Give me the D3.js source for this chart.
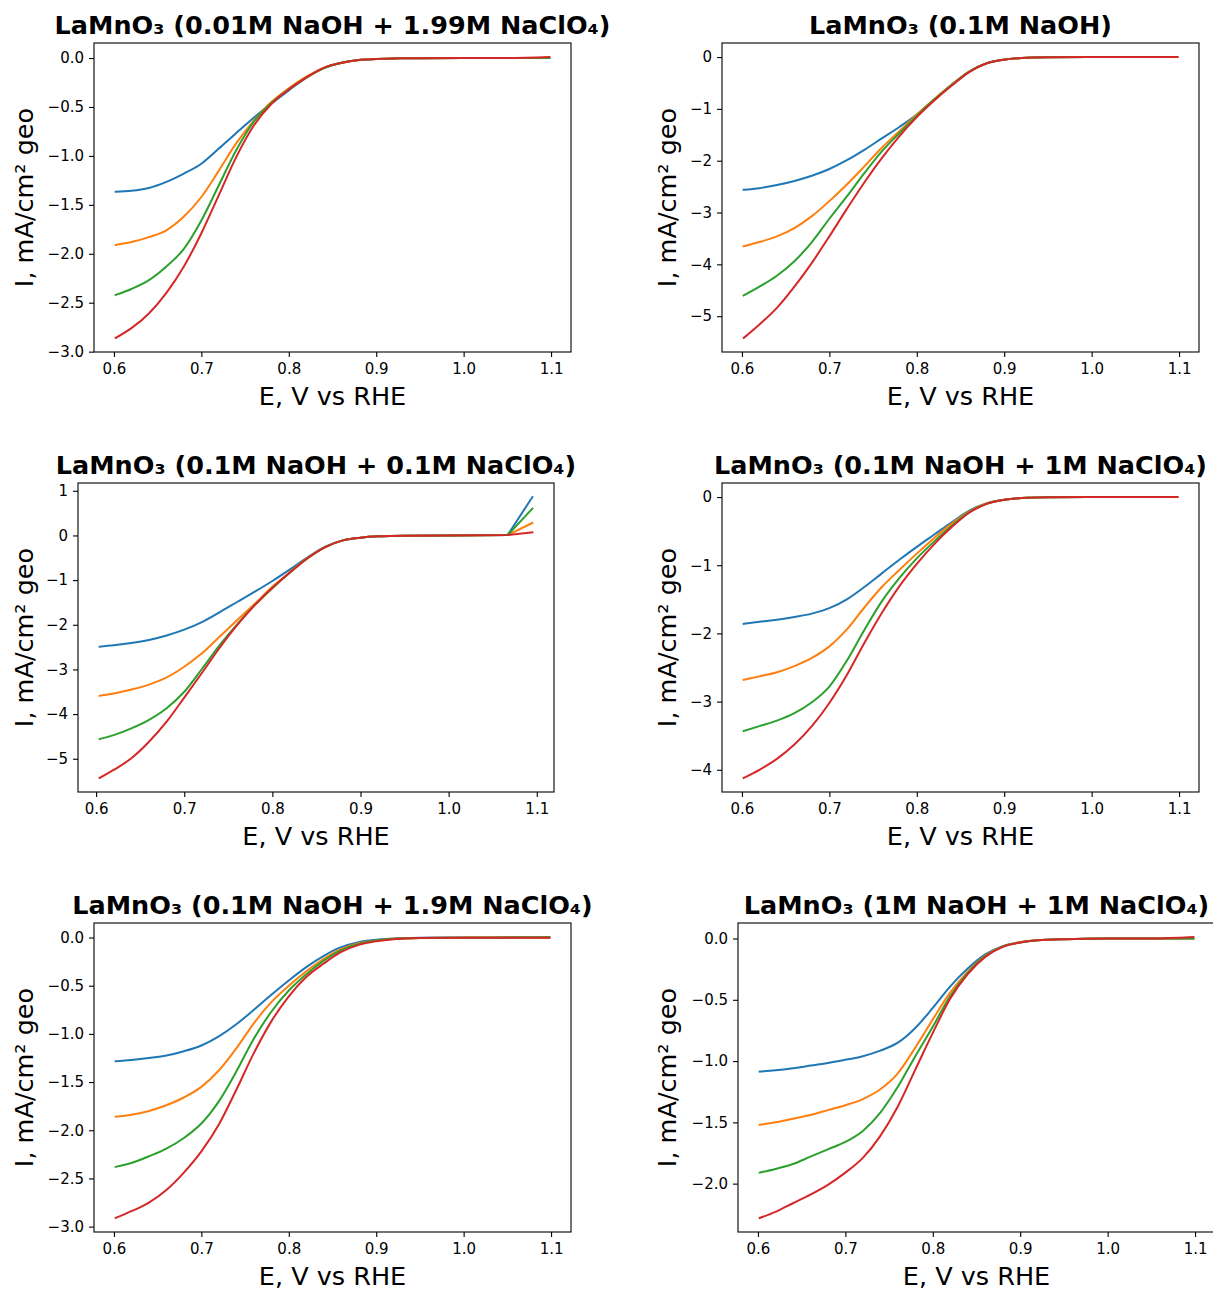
<!DOCTYPE html>
<html>
<head>
<meta charset="utf-8">
<script src="https://cdn.jsdelivr.net/npm/d3@7"></script>
<style>
  body { margin: 0; background: #fff; }
  text { font-family: "DejaVu Sans", sans-serif; fill: #000; }
</style>
</head>
<body>
<script>
// ---------------- DATA ----------------
const seriesColors = ["#1f77b4", "#ff7f0e", "#2ca02c", "#d62728"];
const xTickValues = [0.6, 0.7, 0.8, 0.9, 1.0, 1.1];

const titles = [
  "LaMnO₃ (0.01M NaOH + 1.99M NaClO₄)",
  "LaMnO₃ (0.1M NaOH)",
  "LaMnO₃ (0.1M NaOH + 0.1M NaClO₄)",
  "LaMnO₃ (0.1M NaOH + 1M NaClO₄)",
  "LaMnO₃ (0.1M NaOH + 1.9M NaClO₄)",
  "LaMnO₃ (1M NaOH + 1M NaClO₄)"
];
const xLabel = "E, V vs RHE";
const yLabel = "I, mA/cm² geo";

// potential grids (V vs RHE)
const E = [0.602, 0.62, 0.64, 0.66, 0.68, 0.70, 0.72, 0.74, 0.76, 0.78, 0.80, 0.82, 0.84, 0.86, 0.88, 0.90, 0.92, 0.95, 1.00, 1.05, 1.098];
const E3 = [0.604, 0.62, 0.64, 0.66, 0.68, 0.70, 0.72, 0.74, 0.76, 0.78, 0.80, 0.82, 0.84, 0.86, 0.88, 0.90, 0.92, 0.95, 1.00, 1.067, 1.095];

// Panel 1: 0.01M NaOH + 1.99M NaClO4
const p1Blue   = [-1.367, -1.357, -1.327, -1.265, -1.18, -1.08, -0.925, -0.765, -0.61, -0.466, -0.33, -0.20, -0.10, -0.048, -0.02, -0.01, -0.004, -0.002, -0.001, -0.001, 0.0];
const p1Orange = [-1.91, -1.88, -1.83, -1.76, -1.62, -1.42, -1.15, -0.87, -0.64, -0.45, -0.31, -0.19, -0.10, -0.048, -0.02, -0.01, -0.004, -0.002, -0.001, -0.001, 0.0];
const p1Green  = [-2.42, -2.36, -2.27, -2.13, -1.95, -1.66, -1.30, -0.94, -0.65, -0.46, -0.32, -0.20, -0.105, -0.05, -0.02, -0.01, -0.004, -0.002, -0.001, -0.001, 0.0];
const p1Red    = [-2.86, -2.76, -2.61, -2.40, -2.13, -1.79, -1.40, -1.01, -0.69, -0.47, -0.32, -0.20, -0.10, -0.05, -0.02, -0.01, -0.004, -0.002, -0.001, -0.001, 0.01];

// Panel 2: 0.1M NaOH
const p2Blue   = [-2.56, -2.53, -2.47, -2.39, -2.29, -2.16, -1.99, -1.79, -1.57, -1.35, -1.11, -0.82, -0.53, -0.28, -0.12, -0.05, -0.02, -0.005, 0, 0, 0];
const p2Orange = [-3.65, -3.57, -3.46, -3.30, -3.07, -2.78, -2.46, -2.11, -1.75, -1.43, -1.11, -0.81, -0.53, -0.28, -0.12, -0.05, -0.02, -0.005, 0, 0, 0];
const p2Green  = [-4.60, -4.43, -4.22, -3.94, -3.57, -3.12, -2.69, -2.24, -1.82, -1.47, -1.13, -0.82, -0.54, -0.28, -0.12, -0.05, -0.02, -0.005, 0, 0, 0];
const p2Red    = [-5.42, -5.16, -4.84, -4.43, -3.97, -3.46, -2.93, -2.42, -1.95, -1.53, -1.16, -0.84, -0.55, -0.29, -0.12, -0.05, -0.02, -0.005, 0, 0, 0];

// Panel 3: 0.1M NaOH + 0.1M NaClO4
const p3Blue   = [-2.49, -2.46, -2.41, -2.34, -2.24, -2.11, -1.94, -1.72, -1.49, -1.26, -1.02, -0.76, -0.49, -0.25, -0.11, -0.05, -0.02, -0.005, 0, 0.01, 0.86];
const p3Orange = [-3.59, -3.54, -3.45, -3.34, -3.18, -2.94, -2.64, -2.27, -1.90, -1.53, -1.15, -0.82, -0.50, -0.26, -0.11, -0.05, -0.02, -0.005, 0, 0.01, 0.28];
const p3Green  = [-4.56, -4.47, -4.32, -4.13, -3.87, -3.50, -2.99, -2.46, -1.99, -1.56, -1.18, -0.83, -0.51, -0.26, -0.11, -0.05, -0.02, -0.005, 0, 0.01, 0.60];
const p3Red    = [-5.43, -5.25, -4.99, -4.62, -4.17, -3.63, -3.08, -2.52, -2.01, -1.56, -1.17, -0.83, -0.51, -0.26, -0.11, -0.05, -0.02, -0.005, 0, 0.01, 0.07];

// Panel 4: 0.1M NaOH + 1M NaClO4
const p4Blue   = [-1.86, -1.83, -1.80, -1.76, -1.71, -1.63, -1.50, -1.32, -1.12, -0.92, -0.73, -0.55, -0.37, -0.20, -0.09, -0.04, -0.015, -0.004, 0, 0, 0];
const p4Orange = [-2.68, -2.63, -2.57, -2.48, -2.36, -2.19, -1.94, -1.62, -1.32, -1.07, -0.83, -0.60, -0.39, -0.21, -0.095, -0.04, -0.015, -0.004, 0, 0, 0];
const p4Green  = [-3.43, -3.36, -3.28, -3.17, -3.01, -2.78, -2.40, -1.95, -1.53, -1.19, -0.90, -0.65, -0.42, -0.22, -0.10, -0.04, -0.015, -0.004, 0, 0, 0];
const p4Red    = [-4.12, -4.00, -3.84, -3.63, -3.36, -3.02, -2.61, -2.14, -1.70, -1.31, -0.98, -0.69, -0.44, -0.23, -0.10, -0.04, -0.015, -0.004, 0, 0, 0];

// Panel 5: 0.1M NaOH + 1.9M NaClO4
const p5Blue   = [-1.284, -1.27, -1.25, -1.225, -1.18, -1.12, -1.025, -0.9, -0.75, -0.594, -0.445, -0.307, -0.19, -0.10, -0.048, -0.024, -0.01, -0.003, 0, 0.003, 0.005];
const p5Orange = [-1.86, -1.84, -1.80, -1.74, -1.66, -1.55, -1.38, -1.15, -0.89, -0.67, -0.50, -0.35, -0.22, -0.12, -0.06, -0.03, -0.012, -0.004, -0.001, 0, 0];
const p5Green  = [-2.38, -2.34, -2.27, -2.19, -2.08, -1.93, -1.70, -1.39, -1.05, -0.77, -0.55, -0.38, -0.24, -0.13, -0.066, -0.03, -0.014, -0.005, -0.002, -0.001, 0];
const p5Red    = [-2.91, -2.84, -2.75, -2.62, -2.44, -2.22, -1.94, -1.58, -1.20, -0.87, -0.61, -0.41, -0.27, -0.15, -0.076, -0.038, -0.017, -0.006, -0.002, -0.002, -0.003];

// Panel 6: 1M NaOH + 1M NaClO4
const p6Blue   = [-1.086, -1.075, -1.058, -1.037, -1.015, -0.99, -0.96, -0.915, -0.85, -0.73, -0.566, -0.39, -0.245, -0.13, -0.063, -0.03, -0.014, -0.005, 0, 0, 0];
const p6Orange = [-1.52, -1.50, -1.47, -1.44, -1.40, -1.36, -1.31, -1.23, -1.10, -0.89, -0.66, -0.44, -0.27, -0.14, -0.065, -0.03, -0.014, -0.005, 0, 0, 0];
const p6Green  = [-1.91, -1.88, -1.84, -1.78, -1.72, -1.66, -1.57, -1.42, -1.21, -0.96, -0.72, -0.47, -0.28, -0.144, -0.066, -0.032, -0.014, -0.005, 0, 0, 0];
const p6Red    = [-2.28, -2.23, -2.16, -2.09, -2.01, -1.91, -1.79, -1.61, -1.37, -1.07, -0.77, -0.49, -0.29, -0.15, -0.068, -0.033, -0.015, -0.005, 0, 0, 0.012];

// y tick values per panel
const yTicksHalf = [0.0, -0.5, -1.0, -1.5, -2.0, -2.5, -3.0];
const yTicksP2 = [0, -1, -2, -3, -4, -5];
const yTicksP3 = [1, 0, -1, -2, -3, -4, -5];
const yTicksP4 = [0, -1, -2, -3, -4];
const yTicksP6 = [0.0, -0.5, -1.0, -1.5, -2.0];

// ---------------- LAYOUT ----------------
const W = 1213, H = 1291;
const panels = [
  { title: titles[0], x: E,  ys: [p1Blue, p1Orange, p1Green, p1Red], yt: yTicksHalf, fmt: ".1f", box: [94, 43, 571, 352],   ylx: 33, tail: false },
  { title: titles[1], x: E,  ys: [p2Blue, p2Orange, p2Green, p2Red], yt: yTicksP2,   fmt: "d",   box: [722, 43, 1199, 352],  ylx: 676, tail: false },
  { title: titles[2], x: E3, ys: [p3Blue, p3Orange, p3Green, p3Red], yt: yTicksP3,   fmt: "d",   box: [78, 483, 554, 792],   ylx: 33, tail: true },
  { title: titles[3], x: E,  ys: [p4Blue, p4Orange, p4Green, p4Red], yt: yTicksP4,   fmt: "d",   box: [722, 483, 1199, 792], ylx: 676, tail: false },
  { title: titles[4], x: E,  ys: [p5Blue, p5Orange, p5Green, p5Red], yt: yTicksHalf, fmt: ".1f", box: [94, 923, 571, 1232],  ylx: 33, tail: false },
  { title: titles[5], x: E,  ys: [p6Blue, p6Orange, p6Green, p6Red], yt: yTicksP6,   fmt: ".1f", box: [738, 923, 1215, 1232], ylx: 676, tail: false }
];

const svg = d3.select("body").append("svg").attr("width", W).attr("height", H);

function padded(ext) {
  const m = (ext[1] - ext[0]) * 0.05;
  return [ext[0] - m, ext[1] + m];
}

panels.forEach(p => {
  const [l, t, r, b] = p.box;
  const xs = d3.scaleLinear().domain(padded(d3.extent(p.x))).range([l, r]);
  const allY = p.ys.flat();
  const ysc = d3.scaleLinear().domain(padded(d3.extent(allY))).range([b, t]);

  const g = svg.append("g");

  // curves
  const smooth = d3.line().x(d => xs(d[0])).y(d => ysc(d[1])).curve(d3.curveMonotoneX);
  const straight = d3.line().x(d => xs(d[0])).y(d => ysc(d[1]));
  p.ys.forEach((vals, i) => {
    const pts = p.x.map((e, k) => [e, vals[k]]);
    let d;
    if (p.tail) {
      // sparse last segment is drawn straight, as in the source plot
      const n = pts.length;
      d = smooth(pts.slice(0, n - 1)) + straight(pts.slice(n - 2)).replace(/^M[^L]*/, "");
    } else {
      d = smooth(pts);
    }
    g.append("path")
      .attr("d", d)
      .attr("fill", "none")
      .attr("stroke", seriesColors[i])
      .attr("stroke-width", 2)
      .attr("stroke-linejoin", "round")
      .attr("stroke-linecap", "square");
  });

  // axes
  const xAxis = d3.axisBottom(xs).tickValues(xTickValues).tickFormat(d3.format(".1f")).tickSize(5).tickPadding(6);
  const yAxis = d3.axisLeft(ysc).tickValues(p.yt).tickFormat(d3.format(p.fmt)).tickSize(5).tickPadding(5);
  const gx = g.append("g").attr("transform", `translate(0,${b})`).call(xAxis);
  const gy = g.append("g").attr("transform", `translate(${l},0)`).call(yAxis);
  [gx, gy].forEach(a => {
    a.attr("font-size", null).attr("font-family", null);
    a.select(".domain").remove();
    a.selectAll(".tick line").attr("stroke", "#000").attr("stroke-width", 1.1);
    a.selectAll(".tick text").style("font-size", "15px").style("font-family", "DejaVu Sans").attr("fill", "#000");
  });

  // frame
  g.append("rect")
    .attr("x", l).attr("y", t).attr("width", r - l).attr("height", b - t)
    .attr("fill", "none").attr("stroke", "#000").attr("stroke-width", 1.1);

  // title
  g.append("text")
    .attr("x", (l + r) / 2).attr("y", t - 9)
    .attr("text-anchor", "middle")
    .style("font-size", "25.5px").style("font-weight", "bold")
    .text(p.title);

  // x label
  g.append("text")
    .attr("x", (l + r) / 2).attr("y", b + 53)
    .attr("text-anchor", "middle")
    .style("font-size", "25.5px")
    .text(xLabel);

  // y label
  g.append("text")
    .attr("transform", `translate(${p.ylx},${(t + b) / 2}) rotate(-90)`)
    .attr("text-anchor", "middle")
    .style("font-size", "25.5px")
    .text(yLabel);
});
</script>
</body>
</html>
